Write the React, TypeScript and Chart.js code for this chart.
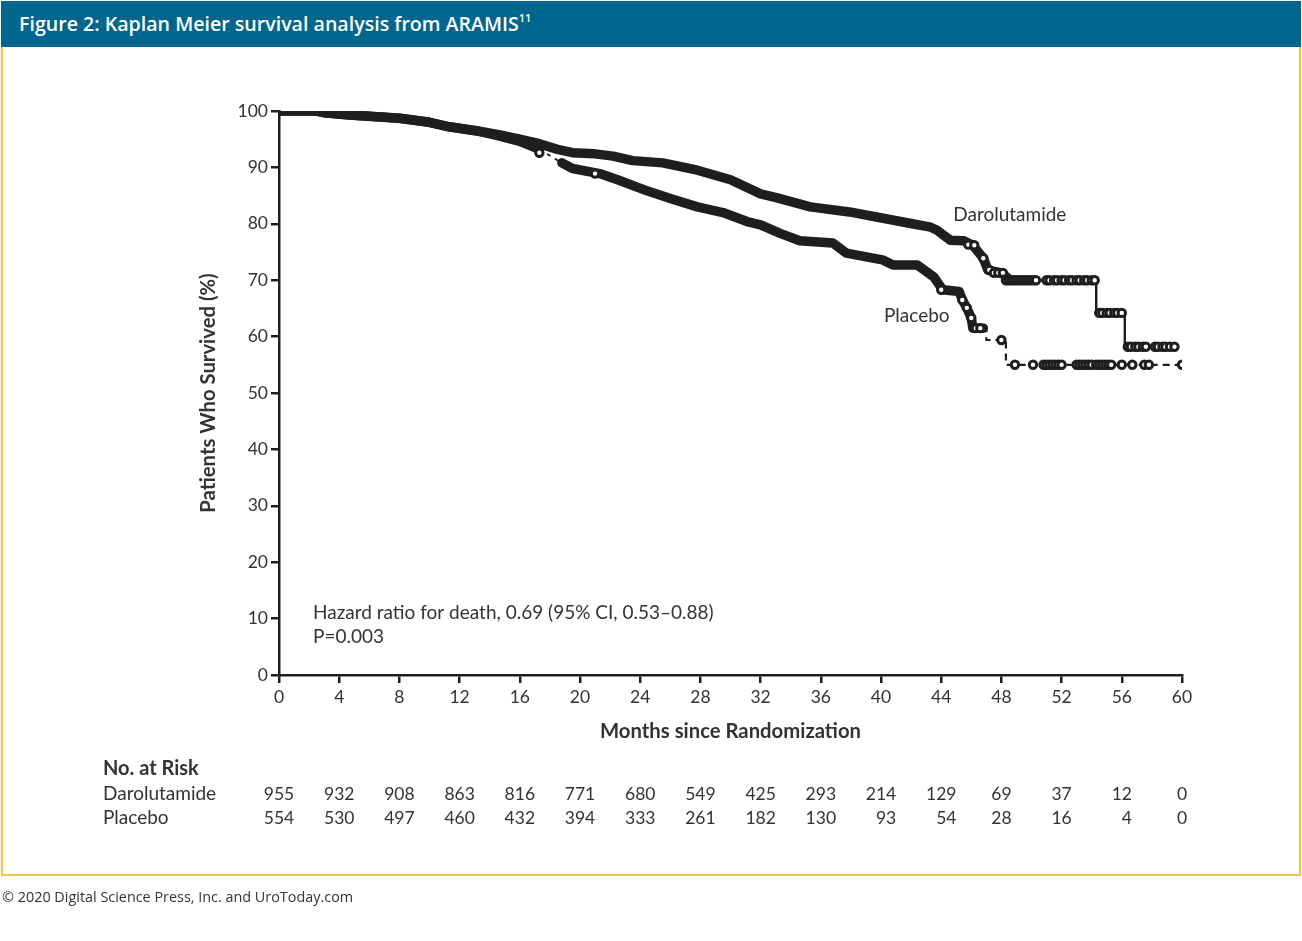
import React, { useEffect, useRef } from 'react';
import { Chart, registerables } from 'chart.js';
Chart.register(...registerables);

// ---- Data ----
const xTickMonths = [0, 4, 8, 12, 16, 20, 24, 28, 32, 36, 40, 44, 48, 52, 56, 60];
const yTickValues = [0, 10, 20, 30, 40, 50, 60, 70, 80, 90, 100];

const daroMonths = [0, 2.5, 3, 4.7, 6.5, 8, 10, 11.3, 13.3, 14.6, 16, 17.3, 18.5, 19.5, 21, 22.2, 23.5, 25.5, 27.8, 30, 32, 33.1, 35.3, 37.9, 39.7, 41.9, 43.3, 43.7, 44.6, 45.5, 46.1, 46.8, 47.1, 48.0, 48.6];
const daroSurv = [100, 100, 99.7, 99.3, 99.0, 98.7, 98.0, 97.2, 96.4, 95.8, 95.0, 94.2, 93.2, 92.6, 92.4, 92.0, 91.2, 90.8, 89.5, 87.8, 85.3, 84.6, 83.0, 82.1, 81.2, 80.1, 79.4, 78.9, 77.1, 77.0, 76.2, 73.9, 71.8, 71.3, 70.0];

const daroTailMonths = [48.6, 54.3, 56.2, 59.7];
const daroTailSurv = [70.0, 64.2, 58.2, 58.2];

const placeboMonths = [0, 2.5, 3, 4.7, 8, 10, 11.3, 13.3, 14.6, 16, 17.3, 18.8, 19.5, 21.3, 22.5, 24.5, 26, 27.8, 29.5, 31.1, 32, 33.3, 34.6, 36.8, 37.7, 40.1, 40.8, 42.4, 43.5, 44.1, 45.2, 45.4, 45.7, 46.0, 46.1, 46.8];
const placeboSurv = [100, 100, 99.7, 99.3, 98.7, 98.0, 97.2, 96.4, 95.6, 94.6, 93.2, 90.8, 89.8, 88.9, 87.8, 85.8, 84.5, 83.0, 82.0, 80.4, 79.8, 78.3, 77.0, 76.6, 74.8, 73.6, 72.7, 72.7, 70.6, 68.3, 68.0, 66.5, 65.1, 63.3, 61.5, 61.5];

const placeboTailMonths = [46.8, 47.0, 48.3, 60.0];
const placeboTailSurv = [61.5, 59.4, 55.0, 55.0];

const daroCensorMonths = [45.8, 46.2, 46.8, 47.2, 47.5, 47.8, 48.1, 48.3, 48.5, 48.7, 48.9, 49.1, 49.3, 49.5, 49.7, 49.9, 50.1, 50.3, 51.0, 51.2, 51.5, 51.7, 52.0, 52.2, 52.5, 52.7, 53.0, 53.2, 53.5, 53.7, 54.0, 54.2, 54.5, 54.7, 55.0, 55.2, 55.5, 55.7, 56.0, 56.4, 56.6, 56.9, 57.1, 57.4, 57.6, 58.2, 58.4, 58.7, 58.9, 59.2, 59.5];
const daroCensorSurv = [76.3, 76.2, 73.9, 71.8, 71.3, 71.3, 71.3, 70.0, 70.0, 70.0, 70.0, 70.0, 70.0, 70.0, 70.0, 70.0, 70.0, 70.0, 70.0, 70.0, 70.0, 70.0, 70.0, 70.0, 70.0, 70.0, 70.0, 70.0, 70.0, 70.0, 70.0, 70.0, 64.2, 64.2, 64.2, 64.2, 64.2, 64.2, 64.2, 58.2, 58.2, 58.2, 58.2, 58.2, 58.2, 58.2, 58.2, 58.2, 58.2, 58.2, 58.2];

const placeboCensorMonths = [17.3, 21.0, 44.0, 45.4, 45.7, 46.0, 46.3, 46.6, 48.0, 48.9, 50.1, 50.8, 51.0, 51.2, 51.4, 51.6, 51.8, 52.0, 53.0, 53.2, 53.4, 53.6, 53.8, 54.0, 54.3, 54.5, 54.7, 54.9, 55.1, 55.3, 56.0, 56.7, 57.5, 57.8, 60.0];
const placeboCensorSurv = [92.6, 88.9, 68.3, 66.5, 65.1, 63.3, 61.5, 61.5, 59.4, 55.0, 55.0, 55.0, 55.0, 55.0, 55.0, 55.0, 55.0, 55.0, 55.0, 55.0, 55.0, 55.0, 55.0, 55.0, 55.0, 55.0, 55.0, 55.0, 55.0, 55.0, 55.0, 55.0, 55.0, 55.0, 55.0];

const placeboThinRanges = [[17.3, 18.8]];

const atRiskMonths = [0, 4, 8, 12, 16, 20, 24, 28, 32, 36, 40, 44, 48, 52, 56, 60];
const daroAtRisk = [955, 932, 908, 863, 816, 771, 680, 549, 425, 293, 214, 129, 69, 37, 12, 0];
const placeboAtRisk = [554, 530, 497, 460, 432, 394, 333, 261, 182, 130, 93, 54, 28, 16, 4, 0];

const hazardLines = ['Hazard ratio for death, 0.69 (95% CI, 0.53\u20130.88)', 'P=0.003'];

// ---- Helpers ----
const pts = (xs: number[], ys: number[]) => xs.map((x, i) => ({ x, y: ys[i] }));
const INK = '#1e1e1e';
const TEXT = '#333333';
const FONT = 'Lato, "Noto Sans", sans-serif';

const overlayPlugin = {
  id: 'overlayText',
  afterDraw(chart: any) {
    const { ctx, scales } = chart;
    const xs = scales.x;
    const ys = scales.y;
    ctx.save();
    ctx.fillStyle = TEXT;
    ctx.textBaseline = 'middle';
    // Curve labels
    ctx.font = `19px ${FONT}`;
    ctx.textAlign = 'left';
    ctx.fillText('Darolutamide', xs.getPixelForValue(44.8), ys.getPixelForValue(81.6));
    ctx.fillText('Placebo', xs.getPixelForValue(40.2), ys.getPixelForValue(63.7));
    // Hazard text
    ctx.font = `19px ${FONT}`;
    ctx.fillText(hazardLines[0], xs.getPixelForValue(2.26), ys.getPixelForValue(11.0));
    ctx.fillText(hazardLines[1], xs.getPixelForValue(2.26), ys.getPixelForValue(6.7));
    // At-risk table
    ctx.font = `bold 20px ${FONT}`;
    ctx.fillText('No. at Risk', 103, 769);
    ctx.font = `19px ${FONT}`;
    ctx.fillText('Darolutamide', 103, 794);
    ctx.fillText('Placebo', 103, 818);
    ctx.font = `17.5px ${FONT}`;
    ctx.textAlign = 'right';
    atRiskMonths.forEach((m, i) => {
      const x = xs.getPixelForValue(m);
      const a = String(daroAtRisk[i]);
      const b = String(placeboAtRisk[i]);
      const w = Math.max(ctx.measureText(a).width, ctx.measureText(b).width);
      ctx.fillText(a, x + w / 2, 794);
      ctx.fillText(b, x + w / 2, 818);
    });
    ctx.restore();
  },
};

const inThin = (a: number, b: number) => placeboThinRanges.some(([s, e]) => a >= s - 1e-6 && b <= e + 1e-6);

export default function App() {
  const ref = useRef<HTMLCanvasElement>(null);
  useEffect(() => {
    if (!ref.current) return;
    const censorStyle = {
      showLine: false,
      pointRadius: 3.7,
      pointBorderWidth: 3,
      pointBackgroundColor: '#ffffff',
      pointBorderColor: INK,
    };
    const chart = new Chart(ref.current, {
      type: 'line',
      data: {
        datasets: [
          { label: 'Darolutamide censored', data: pts(daroCensorMonths, daroCensorSurv), ...censorStyle },
          { label: 'Placebo censored', data: pts(placeboCensorMonths, placeboCensorSurv), ...censorStyle },
          {
            label: 'Darolutamide',
            data: pts(daroMonths, daroSurv),
            borderColor: INK,
            borderWidth: 9.5,
            borderJoinStyle: 'round',
            borderCapStyle: 'round',
            pointRadius: 0,
            tension: 0,
          },
          {
            label: 'Placebo',
            data: pts(placeboMonths, placeboSurv),
            borderColor: INK,
            borderWidth: 9.5,
            borderJoinStyle: 'round',
            borderCapStyle: 'round',
            pointRadius: 0,
            tension: 0,
            segment: {
              borderWidth: (c: any) => (inThin(c.p0.parsed.x, c.p1.parsed.x) ? 1.8 : 9.5),
              borderDash: (c: any) => (inThin(c.p0.parsed.x, c.p1.parsed.x) ? [4, 5] : []),
              borderCapStyle: (c: any) => (inThin(c.p0.parsed.x, c.p1.parsed.x) ? 'butt' : 'round'),
            },
          },
          {
            label: 'Darolutamide tail',
            data: pts(daroTailMonths, daroTailSurv),
            borderColor: INK,
            borderWidth: 2.4,
            stepped: 'before',
            pointRadius: 0,
          },
          {
            label: 'Placebo tail',
            data: pts(placeboTailMonths, placeboTailSurv),
            borderColor: INK,
            borderWidth: 2.2,
            borderDash: [7, 5],
            stepped: 'before',
            pointRadius: 0,
          },
        ],
      },
      options: {
        animation: false,
        responsive: false,
        devicePixelRatio: 1,
        layout: { padding: { left: 196, top: 111, right: 120, bottom: 197 } },
        plugins: { legend: { display: false }, tooltip: { enabled: false } },
        elements: { line: { fill: false } },
        scales: {
          x: {
            type: 'linear',
            min: 0,
            max: 60,
            afterFit: (s: any) => { s.height = 69; },
            afterBuildTicks: (s: any) => { s.ticks = xTickMonths.map((v) => ({ value: v })); },
            ticks: { color: TEXT, font: { family: FONT, size: 17.5 }, padding: 4, maxRotation: 0, autoSkip: false },
            grid: { drawOnChartArea: false, drawTicks: true, tickLength: 8, color: INK, lineWidth: 2.5 },
            border: { display: true, color: INK, width: 2.5 },
            title: {
              display: true,
              text: 'Months since Randomization',
              color: TEXT,
              font: { family: FONT, size: 20.3, weight: 'bold' },
              padding: 0,
            },
          },
          y: {
            type: 'linear',
            min: 0,
            max: 100,
            afterFit: (s: any) => { s.width = 83; },
            afterBuildTicks: (s: any) => { s.ticks = yTickValues.map((v) => ({ value: v })); },
            ticks: { color: TEXT, font: { family: FONT, size: 17.5 }, padding: 3, autoSkip: false },
            grid: { drawOnChartArea: false, drawTicks: true, tickLength: 8, color: INK, lineWidth: 2.5 },
            border: { display: true, color: INK, width: 2.5 },
            title: {
              display: true,
              text: 'Patients Who Survived (%)',
              color: TEXT,
              font: { family: FONT, size: 20.3, weight: 'bold' },
              padding: 0,
            },
          },
        },
      },
      plugins: [overlayPlugin],
    } as any);
    return () => chart.destroy();
  }, []);

  return (
    <div style={{ position: 'absolute', left: 0, top: 0, width: 1302, height: 941, background: '#ffffff', overflow: 'hidden' }}>
      <div
        style={{
          position: 'absolute', left: 1, top: 1, width: 1300, height: 46, background: '#00668e',
          color: '#ffffff', fontFamily: '"Open Sans", sans-serif', fontWeight: 600, fontSize: 19.6,
          lineHeight: '46px', paddingLeft: 18, boxSizing: 'border-box', whiteSpace: 'nowrap',
        }}
      >
        Figure 2: Kaplan Meier survival analysis from ARAMIS<sup style={{ fontSize: 11, verticalAlign: 'top', lineHeight: '34px' }}>11</sup>
      </div>
      <div
        style={{
          position: 'absolute', left: 1, top: 47, width: 1300, height: 829,
          border: '2px solid #f6c440', borderTop: 'none', boxSizing: 'border-box',
        }}
      />
      <canvas ref={ref} width={1302} height={941} style={{ position: 'absolute', left: 0, top: 0, width: 1302, height: 941 }} />
      <div
        style={{
          position: 'absolute', left: 2, top: 887, fontFamily: '"Open Sans", sans-serif', fontSize: 14.4,
          color: '#333333', whiteSpace: 'nowrap', lineHeight: '20px',
        }}
      >
        © 2020 Digital Science Press, Inc. and UroToday.com
      </div>
    </div>
  );
}
